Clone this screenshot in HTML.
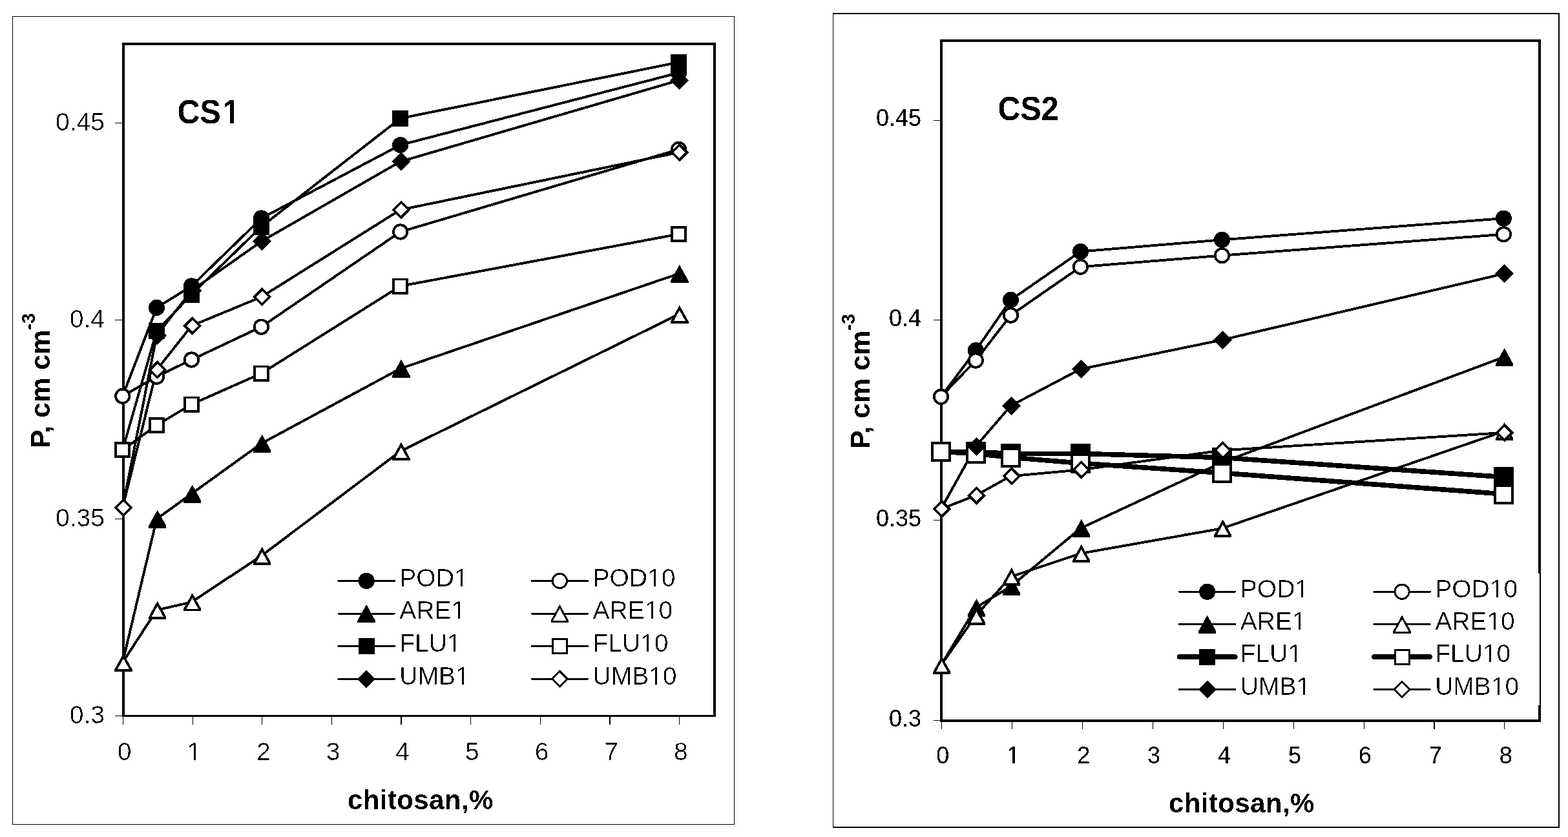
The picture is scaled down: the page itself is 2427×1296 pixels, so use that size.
<!DOCTYPE html>
<html><head><meta charset="utf-8"><title>CS1 / CS2 chitosan charts</title>
<style>html,body{margin:0;padding:0;background:#fff;}body{width:2427px;height:1296px;overflow:hidden;}svg{display:block;}</style>
</head><body>
<svg shape-rendering="crispEdges" width="2427" height="1296" viewBox="0 0 2427 1296" font-family='"Liberation Sans", Arial, sans-serif'>
<rect x="0" y="0" width="2427" height="1296" fill="#fff"/>
<defs><filter id="bin" x="-5%" y="-5%" width="110%" height="110%" color-interpolation-filters="sRGB"><feComponentTransfer><feFuncR type="discrete" tableValues="0 1"/><feFuncG type="discrete" tableValues="0 1"/><feFuncB type="discrete" tableValues="0 1"/><feFuncA type="discrete" tableValues="0 1"/></feComponentTransfer></filter></defs>
<g id="c1">
<rect x="19.5" y="25.8" width="1117" height="1250.7" fill="none" stroke="#000" stroke-width="1.4"/>
<rect x="191.2" y="68.1" width="914.6" height="1040.6" fill="none" stroke="#000" stroke-width="3.5"/>
<line x1="177.8" y1="190.4" x2="191" y2="190.4" stroke="#000" stroke-width="1.1" shape-rendering="crispEdges"/>
<line x1="177.8" y1="495.4" x2="191" y2="495.4" stroke="#000" stroke-width="1.1" shape-rendering="crispEdges"/>
<line x1="177.8" y1="803.9" x2="191" y2="803.9" stroke="#000" stroke-width="1.1" shape-rendering="crispEdges"/>
<line x1="177.8" y1="1108.6" x2="191" y2="1108.6" stroke="#000" stroke-width="1.1" shape-rendering="crispEdges"/>
<line x1="190.4" y1="1110" x2="190.4" y2="1121.8" stroke="#000" stroke-width="1.1" shape-rendering="crispEdges"/>
<line x1="298.05" y1="1110" x2="298.05" y2="1121.8" stroke="#000" stroke-width="1.1" shape-rendering="crispEdges"/>
<line x1="405.7" y1="1110" x2="405.7" y2="1121.8" stroke="#000" stroke-width="1.1" shape-rendering="crispEdges"/>
<line x1="513.35" y1="1110" x2="513.35" y2="1121.8" stroke="#000" stroke-width="1.1" shape-rendering="crispEdges"/>
<line x1="621" y1="1110" x2="621" y2="1121.8" stroke="#000" stroke-width="1.1" shape-rendering="crispEdges"/>
<line x1="728.65" y1="1110" x2="728.65" y2="1121.8" stroke="#000" stroke-width="1.1" shape-rendering="crispEdges"/>
<line x1="836.3" y1="1110" x2="836.3" y2="1121.8" stroke="#000" stroke-width="1.1" shape-rendering="crispEdges"/>
<line x1="943.95" y1="1110" x2="943.95" y2="1121.8" stroke="#000" stroke-width="1.1" shape-rendering="crispEdges"/>
<line x1="1051.6" y1="1110" x2="1051.6" y2="1121.8" stroke="#000" stroke-width="1.1" shape-rendering="crispEdges"/>
<g filter="url(#bin)" font-size="39" text-anchor="end" stroke="#fff" stroke-width="0.35">
<text x="162" y="202.4">0.45</text>
<text x="162" y="506.7">0.4</text>
<text x="162" y="814.5">0.35</text>
<text x="162" y="1119.7">0.3</text>
</g>
<g filter="url(#bin)" font-size="39" text-anchor="middle" stroke="#fff" stroke-width="0.35">
<text x="192.6" y="1177">0</text>
<text x="300.25" y="1177">1</text>
<text x="407.9" y="1177">2</text>
<text x="515.55" y="1177">3</text>
<text x="623.2" y="1177">4</text>
<text x="730.85" y="1177">5</text>
<text x="838.5" y="1177">6</text>
<text x="946.15" y="1177">7</text>
<text x="1053.8" y="1177">8</text>
</g>
<text filter="url(#bin)" transform="translate(274.4,190.8) scale(0.95,1)" font-size="51" font-weight="bold">CS<tspan dx="3">1</tspan></text>
<text filter="url(#bin)" x="538" y="1253.2" font-size="42" font-weight="bold" letter-spacing="0.4">chitosan,%</text>
<text filter="url(#bin)" transform="translate(77,694) rotate(-90)" font-size="43" font-weight="bold">P, cm cm<tspan dy="-23" font-size="29">-3</tspan></text>
<polyline points="189.8,613.3 242.5,476.4 296.5,443 404.5,338 619.7,224.5 1050.6,112.6" fill="none" stroke="#000" stroke-width="3.9" stroke-linejoin="round"/>
<polyline points="189.8,613.3 242.5,583.2 296.5,557 404.5,506.1 619.7,359 1050.6,231.3" fill="none" stroke="#000" stroke-width="3.9" stroke-linejoin="round"/>
<polyline points="189.8,1025.8 242.5,803.6 296.5,764.5 404.5,686.7 619.7,570.7 1050.6,423.8" fill="none" stroke="#000" stroke-width="3.9" stroke-linejoin="round"/>
<polyline points="189.8,1025.8 242.5,944.7 296.5,932.3 404.5,860.7 619.7,698.7 1050.6,486.7" fill="none" stroke="#000" stroke-width="3.9" stroke-linejoin="round"/>
<polyline points="189.8,696.6 242.5,512.5 296.5,456 404.5,351 619.7,183.3 1050.6,96.4" fill="none" stroke="#000" stroke-width="3.9" stroke-linejoin="round"/>
<polyline points="189.8,696.6 242.5,658.4 296.5,626 404.5,578.2 619.7,443 1050.6,362.5" fill="none" stroke="#000" stroke-width="3.9" stroke-linejoin="round"/>
<polyline points="189.8,786 242.5,519.5 296.5,450 404.5,373.8 619.7,250.2 1050.6,124.4" fill="none" stroke="#000" stroke-width="3.9" stroke-linejoin="round"/>
<polyline points="189.8,786 242.5,572.8 296.5,504.5 404.5,459.8 619.7,324.9 1050.6,236" fill="none" stroke="#000" stroke-width="3.9" stroke-linejoin="round"/>
<circle cx="189.8" cy="613.3" r="12.6"/>
<circle cx="242.5" cy="476.4" r="12.6"/>
<circle cx="296.5" cy="443" r="12.6"/>
<circle cx="404.5" cy="338" r="12.6"/>
<circle cx="619.7" cy="224.5" r="12.6"/>
<circle cx="1050.6" cy="112.6" r="12.6"/>
<circle cx="189.8" cy="613.3" r="10.7" fill="#fff" stroke="#000" stroke-width="3.8"/>
<circle cx="242.5" cy="583.2" r="10.7" fill="#fff" stroke="#000" stroke-width="3.8"/>
<circle cx="296.5" cy="557" r="10.7" fill="#fff" stroke="#000" stroke-width="3.8"/>
<circle cx="404.5" cy="506.1" r="10.7" fill="#fff" stroke="#000" stroke-width="3.8"/>
<circle cx="619.7" cy="359" r="10.7" fill="#fff" stroke="#000" stroke-width="3.8"/>
<circle cx="1050.6" cy="231.3" r="10.7" fill="#fff" stroke="#000" stroke-width="3.8"/>
<polygon points="191,1011.8 204.72,1036.6 204.72,1039.8 177.28,1039.8 177.28,1036.6"/>
<polygon points="243.7,789.6 257.42,814.4 257.42,817.6 229.98,817.6 229.98,814.4"/>
<polygon points="297.7,750.5 311.42,775.3 311.42,778.5 283.98,778.5 283.98,775.3"/>
<polygon points="405.7,672.7 419.42,697.5 419.42,700.7 391.98,700.7 391.98,697.5"/>
<polygon points="620.9,556.7 634.62,581.5 634.62,584.7 607.18,584.7 607.18,581.5"/>
<polygon points="1051.8,409.8 1065.52,434.6 1065.52,437.8 1038.08,437.8 1038.08,434.6"/>
<polygon points="191,1011.8 204.72,1036.6 204.72,1039.8 177.28,1039.8 177.28,1036.6"/><polygon points="191,1019.65 200.05,1036 181.95,1036" fill="#fff"/>
<polygon points="243.7,930.7 257.42,955.5 257.42,958.7 229.98,958.7 229.98,955.5"/><polygon points="243.7,938.55 252.75,954.9 234.65,954.9" fill="#fff"/>
<polygon points="297.7,918.3 311.42,943.1 311.42,946.3 283.98,946.3 283.98,943.1"/><polygon points="297.7,926.15 306.75,942.5 288.65,942.5" fill="#fff"/>
<polygon points="405.7,846.7 419.42,871.5 419.42,874.7 391.98,874.7 391.98,871.5"/><polygon points="405.7,854.55 414.75,870.9 396.65,870.9" fill="#fff"/>
<polygon points="620.9,684.7 634.62,709.5 634.62,712.7 607.18,712.7 607.18,709.5"/><polygon points="620.9,692.55 629.95,708.9 611.85,708.9" fill="#fff"/>
<polygon points="1051.8,472.7 1065.52,497.5 1065.52,500.7 1038.08,500.7 1038.08,497.5"/><polygon points="1051.8,480.55 1060.85,496.9 1042.75,496.9" fill="#fff"/>
<rect x="177.3" y="684.1" width="25" height="25"/>
<rect x="230" y="500" width="25" height="25"/>
<rect x="284" y="443.5" width="25" height="25"/>
<rect x="392" y="338.5" width="25" height="25"/>
<rect x="607.2" y="170.8" width="25" height="25"/>
<rect x="1038.1" y="83.9" width="25" height="25"/>
<rect x="179.2" y="686" width="21.2" height="21.2" fill="#fff" stroke="#000" stroke-width="3.8"/>
<rect x="231.9" y="647.8" width="21.2" height="21.2" fill="#fff" stroke="#000" stroke-width="3.8"/>
<rect x="285.9" y="615.4" width="21.2" height="21.2" fill="#fff" stroke="#000" stroke-width="3.8"/>
<rect x="393.9" y="567.6" width="21.2" height="21.2" fill="#fff" stroke="#000" stroke-width="3.8"/>
<rect x="609.1" y="432.4" width="21.2" height="21.2" fill="#fff" stroke="#000" stroke-width="3.8"/>
<rect x="1040" y="351.9" width="21.2" height="21.2" fill="#fff" stroke="#000" stroke-width="3.8"/>
<polygon points="191,771.5 205.5,786 191,800.5 176.5,786"/>
<polygon points="243.7,505 258.2,519.5 243.7,534 229.2,519.5"/>
<polygon points="297.7,435.5 312.2,450 297.7,464.5 283.2,450"/>
<polygon points="405.7,359.3 420.2,373.8 405.7,388.3 391.2,373.8"/>
<polygon points="620.9,235.7 635.4,250.2 620.9,264.7 606.4,250.2"/>
<polygon points="1051.8,109.9 1066.3,124.4 1051.8,138.9 1037.3,124.4"/>
<polygon points="191,771.5 205.5,786 191,800.5 176.5,786"/><polygon points="191,776.87 200.13,786 191,795.13 181.87,786" fill="#fff"/>
<polygon points="243.7,558.3 258.2,572.8 243.7,587.3 229.2,572.8"/><polygon points="243.7,563.67 252.83,572.8 243.7,581.93 234.57,572.8" fill="#fff"/>
<polygon points="297.7,490 312.2,504.5 297.7,519 283.2,504.5"/><polygon points="297.7,495.37 306.83,504.5 297.7,513.63 288.57,504.5" fill="#fff"/>
<polygon points="405.7,445.3 420.2,459.8 405.7,474.3 391.2,459.8"/><polygon points="405.7,450.67 414.83,459.8 405.7,468.93 396.57,459.8" fill="#fff"/>
<polygon points="620.9,310.4 635.4,324.9 620.9,339.4 606.4,324.9"/><polygon points="620.9,315.77 630.03,324.9 620.9,334.03 611.77,324.9" fill="#fff"/>
<polygon points="1051.8,221.5 1066.3,236 1051.8,250.5 1037.3,236"/><polygon points="1051.8,226.87 1060.93,236 1051.8,245.13 1042.67,236" fill="#fff"/>
<line x1="523.9" y1="899.4" x2="610.4" y2="899.4" stroke="#000" stroke-width="3" stroke-linecap="round"/>
<circle cx="567.15" cy="899.4" r="12.6"/>
<text filter="url(#bin)" x="618.3" y="907.78" font-size="39" stroke="#fff" stroke-width="0.35">POD1</text>
<line x1="823.1" y1="899.4" x2="909.6" y2="899.4" stroke="#000" stroke-width="3" stroke-linecap="round"/>
<circle cx="866.35" cy="899.4" r="11.1" fill="#fff" stroke="#000" stroke-width="3"/>
<text filter="url(#bin)" x="917.5" y="907.78" font-size="39" stroke="#fff" stroke-width="0.35">POD10</text>
<line x1="523.9" y1="950" x2="610.4" y2="950" stroke="#000" stroke-width="3" stroke-linecap="round"/>
<polygon points="567.15,936 580.87,960.8 580.87,964 553.43,964 553.43,960.8"/>
<text filter="url(#bin)" x="618.3" y="958.38" font-size="39" stroke="#fff" stroke-width="0.35">ARE1</text>
<line x1="823.1" y1="950" x2="909.6" y2="950" stroke="#000" stroke-width="3" stroke-linecap="round"/>
<polygon points="866.35,936 880.07,960.8 880.07,964 852.63,964 852.63,960.8"/><polygon points="866.35,942.2 876.75,961 855.95,961" fill="#fff"/>
<text filter="url(#bin)" x="917.5" y="958.38" font-size="39" stroke="#fff" stroke-width="0.35">ARE10</text>
<line x1="523.9" y1="1000.6" x2="610.4" y2="1000.6" stroke="#000" stroke-width="3" stroke-linecap="round"/>
<rect x="554.65" y="988.1" width="25" height="25"/>
<text filter="url(#bin)" x="618.3" y="1008.99" font-size="39" stroke="#fff" stroke-width="0.35">FLU1</text>
<line x1="823.1" y1="1000.6" x2="909.6" y2="1000.6" stroke="#000" stroke-width="3" stroke-linecap="round"/>
<rect x="855.35" y="989.6" width="22" height="22" fill="#fff" stroke="#000" stroke-width="3"/>
<text filter="url(#bin)" x="917.5" y="1008.99" font-size="39" stroke="#fff" stroke-width="0.35">FLU10</text>
<line x1="523.9" y1="1051.2" x2="610.4" y2="1051.2" stroke="#000" stroke-width="3" stroke-linecap="round"/>
<polygon points="567.15,1037.2 581.15,1051.2 567.15,1065.2 553.15,1051.2"/>
<text filter="url(#bin)" x="618.3" y="1059.59" font-size="39" stroke="#fff" stroke-width="0.35">UMB1</text>
<line x1="823.1" y1="1051.2" x2="909.6" y2="1051.2" stroke="#000" stroke-width="3" stroke-linecap="round"/>
<polygon points="866.35,1037.2 880.35,1051.2 866.35,1065.2 852.35,1051.2"/><polygon points="866.35,1041.44 876.11,1051.2 866.35,1060.96 856.59,1051.2" fill="#fff"/>
<text filter="url(#bin)" x="917.5" y="1059.59" font-size="39" stroke="#fff" stroke-width="0.35">UMB10</text>
</g>
<g id="c2">
<rect x="1289.5" y="21" width="1123.3" height="1259.9" fill="none" stroke="#000" stroke-width="1.4"/>
<rect x="1457.4" y="63.4" width="925.6" height="1052.7" fill="none" stroke="#000" stroke-width="4"/>
<line x1="1444.8" y1="186.5" x2="1457" y2="186.5" stroke="#000" stroke-width="1.1" shape-rendering="crispEdges"/>
<line x1="1444.8" y1="495.8" x2="1457" y2="495.8" stroke="#000" stroke-width="1.1" shape-rendering="crispEdges"/>
<line x1="1444.8" y1="805.4" x2="1457" y2="805.4" stroke="#000" stroke-width="1.1" shape-rendering="crispEdges"/>
<line x1="1444.8" y1="1115.2" x2="1457" y2="1115.2" stroke="#000" stroke-width="1.1" shape-rendering="crispEdges"/>
<line x1="1457.5" y1="1117.5" x2="1457.5" y2="1128.8" stroke="#000" stroke-width="1.1" shape-rendering="crispEdges"/>
<line x1="1566.43" y1="1117.5" x2="1566.43" y2="1128.8" stroke="#000" stroke-width="1.1" shape-rendering="crispEdges"/>
<line x1="1675.36" y1="1117.5" x2="1675.36" y2="1128.8" stroke="#000" stroke-width="1.1" shape-rendering="crispEdges"/>
<line x1="1784.29" y1="1117.5" x2="1784.29" y2="1128.8" stroke="#000" stroke-width="1.1" shape-rendering="crispEdges"/>
<line x1="1893.22" y1="1117.5" x2="1893.22" y2="1128.8" stroke="#000" stroke-width="1.1" shape-rendering="crispEdges"/>
<line x1="2002.15" y1="1117.5" x2="2002.15" y2="1128.8" stroke="#000" stroke-width="1.1" shape-rendering="crispEdges"/>
<line x1="2111.08" y1="1117.5" x2="2111.08" y2="1128.8" stroke="#000" stroke-width="1.1" shape-rendering="crispEdges"/>
<line x1="2220.01" y1="1117.5" x2="2220.01" y2="1128.8" stroke="#000" stroke-width="1.1" shape-rendering="crispEdges"/>
<line x1="2328.94" y1="1117.5" x2="2328.94" y2="1128.8" stroke="#000" stroke-width="1.1" shape-rendering="crispEdges"/>
<g filter="url(#bin)" font-size="36" text-anchor="end" stroke="#fff" stroke-width="0.1">
<text x="1426" y="195">0.45</text>
<text x="1426" y="504.9">0.4</text>
<text x="1426" y="815">0.35</text>
<text x="1426" y="1125.2">0.3</text>
</g>
<g filter="url(#bin)" font-size="36" text-anchor="middle" stroke="#fff" stroke-width="0.1">
<text x="1459.3" y="1181.6">0</text>
<text x="1568.23" y="1181.6">1</text>
<text x="1677.16" y="1181.6">2</text>
<text x="1786.09" y="1181.6">3</text>
<text x="1895.02" y="1181.6">4</text>
<text x="2003.95" y="1181.6">5</text>
<text x="2112.88" y="1181.6">6</text>
<text x="2221.81" y="1181.6">7</text>
<text x="2330.74" y="1181.6">8</text>
</g>
<text filter="url(#bin)" transform="translate(1544.4,185.9) scale(0.95,1)" font-size="51" font-weight="bold">CS2</text>
<text filter="url(#bin)" x="1809" y="1258.1" font-size="42" font-weight="bold" letter-spacing="0.4">chitosan,%</text>
<text filter="url(#bin)" transform="translate(1346,695) rotate(-90)" font-size="43" font-weight="bold">P, cm cm<tspan dy="-23" font-size="29">-3</tspan></text>
<polyline points="1456.5,614.3 1510.3,542.6 1564.5,464.4 1672.5,389.5 1891.5,371.3 2327.4,338.1" fill="none" stroke="#000" stroke-width="3.9" stroke-linejoin="round"/>
<polyline points="1456.5,614.3 1510.3,558.1 1564.5,488.1 1672.5,413.2 1891.5,395.6 2327.4,362.8" fill="none" stroke="#000" stroke-width="3.9" stroke-linejoin="round"/>
<polyline points="1456.5,1030 1510.3,941 1564.5,908 1672.5,818 1891.5,716 2327.4,553" fill="none" stroke="#000" stroke-width="3.9" stroke-linejoin="round"/>
<polyline points="1456.5,1030 1510.3,953.5 1564.5,893 1672.5,857 1891.5,818.2 2327.4,668" fill="none" stroke="#000" stroke-width="3.9" stroke-linejoin="round"/>
<polyline points="1456.5,699.4 1510.3,699.4 1564.5,702.5 1672.5,702.4 1891.5,708.5 2327.4,738.6" fill="none" stroke="#000" stroke-width="7.6" stroke-linejoin="round"/>
<polyline points="1456.5,699.4 1510.3,702.4 1564.5,708.3 1672.5,717.2 1891.5,732.3 2327.4,765" fill="none" stroke="#000" stroke-width="7.6" stroke-linejoin="round"/>
<polyline points="1456.5,788.1 1510.3,691.3 1564.5,628.3 1672.5,571.5 1891.5,526.3 2327.4,423.9" fill="none" stroke="#000" stroke-width="3.9" stroke-linejoin="round"/>
<polyline points="1456.5,788.1 1510.3,767.2 1564.5,737.2 1672.5,727.4 1891.5,697.4 2327.4,670" fill="none" stroke="#000" stroke-width="3.9" stroke-linejoin="round"/>
<circle cx="1456.5" cy="614.3" r="12.6"/>
<circle cx="1510.3" cy="542.6" r="12.6"/>
<circle cx="1564.5" cy="464.4" r="12.6"/>
<circle cx="1672.5" cy="389.5" r="12.6"/>
<circle cx="1891.5" cy="371.3" r="12.6"/>
<circle cx="2327.4" cy="338.1" r="12.6"/>
<circle cx="1456.5" cy="614.3" r="10.7" fill="#fff" stroke="#000" stroke-width="3.8"/>
<circle cx="1510.3" cy="558.1" r="10.7" fill="#fff" stroke="#000" stroke-width="3.8"/>
<circle cx="1564.5" cy="488.1" r="10.7" fill="#fff" stroke="#000" stroke-width="3.8"/>
<circle cx="1672.5" cy="413.2" r="10.7" fill="#fff" stroke="#000" stroke-width="3.8"/>
<circle cx="1891.5" cy="395.6" r="10.7" fill="#fff" stroke="#000" stroke-width="3.8"/>
<circle cx="2327.4" cy="362.8" r="10.7" fill="#fff" stroke="#000" stroke-width="3.8"/>
<polygon points="1457.7,1016 1471.42,1040.8 1471.42,1044 1443.98,1044 1443.98,1040.8"/>
<polygon points="1511.5,927 1525.22,951.8 1525.22,955 1497.78,955 1497.78,951.8"/>
<polygon points="1565.7,894 1579.42,918.8 1579.42,922 1551.98,922 1551.98,918.8"/>
<polygon points="1673.7,804 1687.42,828.8 1687.42,832 1659.98,832 1659.98,828.8"/>
<polygon points="1892.7,702 1906.42,726.8 1906.42,730 1878.98,730 1878.98,726.8"/>
<polygon points="2328.6,539 2342.32,563.8 2342.32,567 2314.88,567 2314.88,563.8"/>
<polygon points="1457.7,1016 1471.42,1040.8 1471.42,1044 1443.98,1044 1443.98,1040.8"/><polygon points="1457.7,1023.85 1466.75,1040.2 1448.65,1040.2" fill="#fff"/>
<polygon points="1511.5,939.5 1525.22,964.3 1525.22,967.5 1497.78,967.5 1497.78,964.3"/><polygon points="1511.5,947.35 1520.55,963.7 1502.45,963.7" fill="#fff"/>
<polygon points="1565.7,879 1579.42,903.8 1579.42,907 1551.98,907 1551.98,903.8"/><polygon points="1565.7,886.85 1574.75,903.2 1556.65,903.2" fill="#fff"/>
<polygon points="1673.7,843 1687.42,867.8 1687.42,871 1659.98,871 1659.98,867.8"/><polygon points="1673.7,850.85 1682.75,867.2 1664.65,867.2" fill="#fff"/>
<polygon points="1892.7,804.2 1906.42,829 1906.42,832.2 1878.98,832.2 1878.98,829"/><polygon points="1892.7,812.05 1901.75,828.4 1883.65,828.4" fill="#fff"/>
<polygon points="2328.6,654 2342.32,678.8 2342.32,682 2314.88,682 2314.88,678.8"/><polygon points="2328.6,661.85 2337.65,678.2 2319.55,678.2" fill="#fff"/>
<rect x="1441" y="683.9" width="31" height="31"/>
<rect x="1494.8" y="683.9" width="31" height="31"/>
<rect x="1549" y="687" width="31" height="31"/>
<rect x="1657" y="686.9" width="31" height="31"/>
<rect x="1876" y="693" width="31" height="31"/>
<rect x="2311.9" y="723.1" width="31" height="31"/>
<rect x="1443" y="685.9" width="27" height="27" fill="#fff" stroke="#000" stroke-width="4"/>
<rect x="1496.8" y="688.9" width="27" height="27" fill="#fff" stroke="#000" stroke-width="4"/>
<rect x="1551" y="694.8" width="27" height="27" fill="#fff" stroke="#000" stroke-width="4"/>
<rect x="1659" y="703.7" width="27" height="27" fill="#fff" stroke="#000" stroke-width="4"/>
<rect x="1878" y="718.8" width="27" height="27" fill="#fff" stroke="#000" stroke-width="4"/>
<rect x="2313.9" y="751.5" width="27" height="27" fill="#fff" stroke="#000" stroke-width="4"/>
<polygon points="1457.7,773.6 1472.2,788.1 1457.7,802.6 1443.2,788.1"/>
<polygon points="1511.5,676.8 1526,691.3 1511.5,705.8 1497,691.3"/>
<polygon points="1565.7,613.8 1580.2,628.3 1565.7,642.8 1551.2,628.3"/>
<polygon points="1673.7,557 1688.2,571.5 1673.7,586 1659.2,571.5"/>
<polygon points="1892.7,511.8 1907.2,526.3 1892.7,540.8 1878.2,526.3"/>
<polygon points="2328.6,409.4 2343.1,423.9 2328.6,438.4 2314.1,423.9"/>
<polygon points="1457.7,773.6 1472.2,788.1 1457.7,802.6 1443.2,788.1"/><polygon points="1457.7,778.97 1466.83,788.1 1457.7,797.23 1448.57,788.1" fill="#fff"/>
<polygon points="1511.5,752.7 1526,767.2 1511.5,781.7 1497,767.2"/><polygon points="1511.5,758.07 1520.63,767.2 1511.5,776.33 1502.37,767.2" fill="#fff"/>
<polygon points="1565.7,722.7 1580.2,737.2 1565.7,751.7 1551.2,737.2"/><polygon points="1565.7,728.07 1574.83,737.2 1565.7,746.33 1556.57,737.2" fill="#fff"/>
<polygon points="1673.7,712.9 1688.2,727.4 1673.7,741.9 1659.2,727.4"/><polygon points="1673.7,718.27 1682.83,727.4 1673.7,736.53 1664.57,727.4" fill="#fff"/>
<polygon points="1892.7,682.9 1907.2,697.4 1892.7,711.9 1878.2,697.4"/><polygon points="1892.7,688.27 1901.83,697.4 1892.7,706.53 1883.57,697.4" fill="#fff"/>
<polygon points="2328.6,655.5 2343.1,670 2328.6,684.5 2314.1,670"/><polygon points="2328.6,660.87 2337.73,670 2328.6,679.13 2319.47,670" fill="#fff"/>
<rect x="1812" y="887.8" width="571.1" height="204.2" fill="#fff"/>
<line x1="1825.4" y1="916.2" x2="1911.9" y2="916.2" stroke="#000" stroke-width="3" stroke-linecap="round"/>
<circle cx="1868.65" cy="916.2" r="12.6"/>
<text filter="url(#bin)" x="1919.8" y="924.59" font-size="39" stroke="#fff" stroke-width="0.35">POD1</text>
<line x1="2126.8" y1="916.2" x2="2213.3" y2="916.2" stroke="#000" stroke-width="3" stroke-linecap="round"/>
<circle cx="2170.05" cy="916.2" r="11.1" fill="#fff" stroke="#000" stroke-width="3"/>
<text filter="url(#bin)" x="2221.2" y="924.59" font-size="39" stroke="#fff" stroke-width="0.35">POD10</text>
<line x1="1825.4" y1="966.6" x2="1911.9" y2="966.6" stroke="#000" stroke-width="3" stroke-linecap="round"/>
<polygon points="1868.65,952.6 1882.37,977.4 1882.37,980.6 1854.93,980.6 1854.93,977.4"/>
<text filter="url(#bin)" x="1919.8" y="974.99" font-size="39" stroke="#fff" stroke-width="0.35">ARE1</text>
<line x1="2126.8" y1="966.6" x2="2213.3" y2="966.6" stroke="#000" stroke-width="3" stroke-linecap="round"/>
<polygon points="2170.05,952.6 2183.77,977.4 2183.77,980.6 2156.33,980.6 2156.33,977.4"/><polygon points="2170.05,958.8 2180.45,977.6 2159.65,977.6" fill="#fff"/>
<text filter="url(#bin)" x="2221.2" y="974.99" font-size="39" stroke="#fff" stroke-width="0.35">ARE10</text>
<line x1="1825.4" y1="1017" x2="1911.9" y2="1017" stroke="#000" stroke-width="7.4" stroke-linecap="round"/>
<rect x="1856.15" y="1004.5" width="25" height="25"/>
<text filter="url(#bin)" x="1919.8" y="1025.38" font-size="39" stroke="#fff" stroke-width="0.35">FLU1</text>
<line x1="2126.8" y1="1017" x2="2213.3" y2="1017" stroke="#000" stroke-width="7.4" stroke-linecap="round"/>
<rect x="2159.05" y="1006" width="22" height="22" fill="#fff" stroke="#000" stroke-width="3"/>
<text filter="url(#bin)" x="2221.2" y="1025.38" font-size="39" stroke="#fff" stroke-width="0.35">FLU10</text>
<line x1="1825.4" y1="1067.4" x2="1911.9" y2="1067.4" stroke="#000" stroke-width="3" stroke-linecap="round"/>
<polygon points="1868.65,1053.4 1882.65,1067.4 1868.65,1081.4 1854.65,1067.4"/>
<text filter="url(#bin)" x="1919.8" y="1075.79" font-size="39" stroke="#fff" stroke-width="0.35">UMB1</text>
<line x1="2126.8" y1="1067.4" x2="2213.3" y2="1067.4" stroke="#000" stroke-width="3" stroke-linecap="round"/>
<polygon points="2170.05,1053.4 2184.05,1067.4 2170.05,1081.4 2156.05,1067.4"/><polygon points="2170.05,1057.64 2179.81,1067.4 2170.05,1077.16 2160.29,1067.4" fill="#fff"/>
<text filter="url(#bin)" x="2221.2" y="1075.79" font-size="39" stroke="#fff" stroke-width="0.35">UMB10</text>
</g>
<g fill="#fff"><rect x="288" y="1174" width="12" height="3"/><rect x="303" y="1174" width="10" height="3"/><rect x="343" y="185" width="13" height="6"/><rect x="362" y="185" width="11" height="6"/><rect x="701" y="905" width="12" height="3"/><rect x="716" y="905" width="10" height="3"/><rect x="1001" y="905" width="11" height="3"/><rect x="1015" y="905" width="10" height="3"/><rect x="697" y="955" width="12" height="3"/><rect x="712" y="955" width="10" height="3"/><rect x="996" y="955" width="12" height="3"/><rect x="1011" y="955" width="10" height="3"/><rect x="690" y="1006" width="12" height="3"/><rect x="705" y="1006" width="10" height="3"/><rect x="990" y="1006" width="11" height="3"/><rect x="1004" y="1006" width="10" height="3"/><rect x="703" y="1057" width="12" height="3"/><rect x="718" y="1057" width="10" height="3"/><rect x="1003" y="1057" width="11" height="3"/><rect x="1017" y="1057" width="10" height="3"/><rect x="1557" y="1179" width="10" height="3"/><rect x="1571" y="1179" width="9" height="3"/><rect x="2003" y="922" width="11" height="3"/><rect x="2017" y="922" width="11" height="3"/><rect x="2304" y="922" width="12" height="3"/><rect x="2319" y="922" width="10" height="3"/><rect x="1998" y="972" width="12" height="3"/><rect x="2013" y="972" width="10" height="3"/><rect x="2300" y="972" width="12" height="3"/><rect x="2315" y="972" width="10" height="3"/><rect x="1992" y="1022" width="12" height="3"/><rect x="2007" y="1022" width="10" height="3"/><rect x="2293" y="1022" width="12" height="3"/><rect x="2308" y="1022" width="10" height="3"/><rect x="2005" y="1073" width="12" height="3"/><rect x="2020" y="1073" width="10" height="3"/><rect x="2306" y="1073" width="12" height="3"/><rect x="2321" y="1073" width="10" height="3"/></g>
</svg>
</body></html>
